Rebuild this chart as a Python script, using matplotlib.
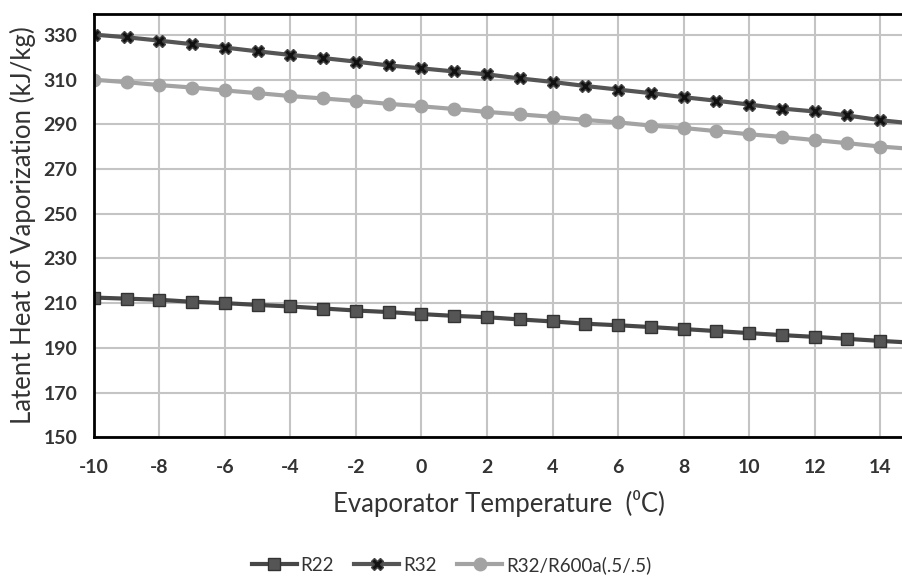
import numpy as np
import matplotlib
matplotlib.use('Agg')
import matplotlib.pyplot as plt

plt.rcParams['font.family'] = ['Lato', 'DejaVu Sans']
plt.rcParams['axes.unicode_minus'] = False

# 데이터
temps = list(range(-10, 16))
r22 = [212.5, 212.0, 211.5, 210.6, 210.0, 209.2, 208.5, 207.6, 206.7, 206.0,
       205.1, 204.3, 203.7, 202.7, 201.8, 200.8, 200.1, 199.3, 198.4, 197.5,
       196.6, 195.7, 194.9, 194.0, 193.1, 192.3]
r32 = [330.2, 329.0, 327.5, 325.9, 324.4, 322.7, 321.1, 319.7, 318.1, 316.4,
       315.1, 313.7, 312.4, 310.6, 309.0, 307.2, 305.6, 304.0, 302.2, 300.6,
       298.9, 297.1, 295.8, 294.0, 291.9, 290.4]
r32_r600a = [310.0, 308.9, 307.6, 306.5, 305.2, 304.0, 302.7, 301.6, 300.5, 299.2,
             298.1, 296.9, 295.6, 294.5, 293.4, 292.0, 290.9, 289.5, 288.4, 287.0,
             285.6, 284.4, 283.0, 281.6, 280.1, 279.0]
series_names = ['R22', 'R32', 'R32/R600a(.5/.5)']

fig = plt.figure(figsize=(9.03, 5.76), dpi=100)
ax = fig.add_axes([0.104, 0.241, 0.896, 0.735])

ax.plot(temps, r22, color='#474747', lw=3, marker='s', ms=8,
        mfc='#555555', mec='#333333', label=series_names[0])
ax.plot(temps, r32, color='#555555', lw=3, marker='X', ms=9,
        mfc='#111111', mec='#444444', label=series_names[1])
ax.plot(temps, r32_r600a, color='#a3a3a3', lw=3, marker='o', ms=9,
        mfc='#a3a3a3', mec='#a3a3a3', label=series_names[2])

ax.set_xlim(-10, 14.7)
ax.set_ylim(150, 339.5)
ax.set_xticks(range(-10, 15, 2))
ax.set_yticks(range(150, 331, 20))
ax.grid(True, color='#c4c4c4', lw=1.5)
ax.set_axisbelow(True)

for s in ['left', 'bottom', 'top']:
    ax.spines[s].set_linewidth(2)
    ax.spines[s].set_color('black')
ax.spines['right'].set_visible(False)
ax.tick_params(length=0, labelsize=14, labelcolor='#333333')
ax.tick_params(axis='x', pad=16)
ax.tick_params(axis='y', pad=12)
for lbl in ax.get_xticklabels() + ax.get_yticklabels():
    lbl.set_fontweight('bold')

ax.set_xlabel('Evaporator Temperature  (⁰C)', fontsize=18.5, color='#333333', labelpad=10)
ax.set_ylabel('Latent Heat of Vaporization (kJ/kg)', fontsize=18.5, color='#333333', labelpad=5)

leg = fig.legend(loc='center', bbox_to_anchor=(0.5, 0.019), ncol=3, frameon=False,
                 fontsize=13.5, handlelength=2.4, columnspacing=1.1, handletextpad=0.2)
for t in leg.get_texts():
    t.set_color('#333333')

fig.savefig('out.png', dpi=100)
